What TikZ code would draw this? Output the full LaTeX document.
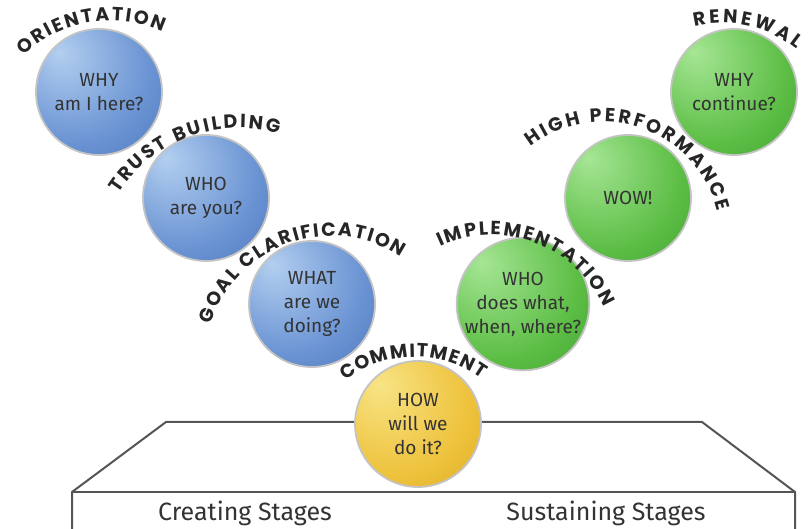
\documentclass[tikz,border=0pt]{standalone}
\usepackage{fontspec}
\setmainfont{Fira Sans}
\newfontfamily\arcfont{Poppins}
\usetikzlibrary{decorations.text}

\definecolor{blueL}{HTML}{B3CFF0}
\definecolor{blueM}{HTML}{6A93D3}
\definecolor{blueD}{HTML}{3560AA}
\definecolor{greenL}{HTML}{A6E695}
\definecolor{greenM}{HTML}{5DBE46}
\definecolor{greenD}{HTML}{2A8C1C}
\definecolor{yelL}{HTML}{F8E486}
\definecolor{yelM}{HTML}{EEC23C}
\definecolor{yelD}{HTML}{D29A12}
\definecolor{rimgray}{HTML}{C4C4C4}
\definecolor{txtgray}{HTML}{333333}
\definecolor{arctxt}{HTML}{262626}
\definecolor{lingray}{HTML}{555555}

\pgfdeclareradialshading{blueball}{\pgfpoint{-16bp}{16bp}}{color(0bp)=(blueL); color(30bp)=(blueM); color(62bp)=(blueD); color(75bp)=(blueD)}
\pgfdeclareradialshading{greenball}{\pgfpoint{-16bp}{16bp}}{color(0bp)=(greenL); color(30bp)=(greenM); color(62bp)=(greenD); color(75bp)=(greenD)}
\pgfdeclareradialshading{yellowball}{\pgfpoint{-16bp}{16bp}}{color(0bp)=(yelL); color(30bp)=(yelM); color(62bp)=(yelD); color(75bp)=(yelD)}

\newcommand\arcfmt{\arcfont\bfseries\fontsize{19}{19}\selectfont}

\tikzset{
  bubble/.style={circle, minimum size=126pt, inner sep=0pt, draw=rimgray, line width=1.8pt,
    align=center, text=txtgray, font=\fontsize{19}{24}\selectfont},
  bluebub/.style={bubble, shading=blueball},
  greenbub/.style={bubble, shading=greenball},
  yellowbub/.style={bubble, shading=yellowball},
  platform/.style={draw=lingray, line width=2pt, line join=miter},
  stagelbl/.style={anchor=base, text=txtgray, font=\fontsize{25}{30}\selectfont},
  arclbl/.style={decorate, decoration={text along path, text align={fit to path}, text color=arctxt, text={|\arcfmt|#1}}}
}

\begin{document}
\begin{tikzpicture}[x=1pt,y=1pt]
\useasboundingbox (0,0) rectangle (808,529);
\clip (0,0) rectangle (808,529);

% platform
\coordinate (pbl2) at (72,-6);
\coordinate (pbl) at (72,37);
\coordinate (ptl) at (166,107);
\coordinate (ptr) at (702,107);
\coordinate (pbr) at (795,37);
\coordinate (pbr2) at (795,-6);
\draw[platform] (pbl2) -- (pbl) -- (ptl) -- (ptr) -- (pbr) -- (pbr2);
\draw[platform] (pbl) -- (pbr);

\node[stagelbl] (creating) at (245,8) {Creating Stages};
\node[stagelbl] (sustaining) at (606,8) {Sustaining Stages};

% bubbles
\node[bluebub] (c1) at (99,437) {WHY\\am I here?};
\node[bluebub] (c2) at (206,331) {WHO\\are you?};
\node[bluebub] (c3) at (312,225) {WHAT\\are we\\doing?};
\node[yellowbub] (c4) at (418,105) {HOW\\will we\\do it?};
\node[greenbub] (c5) at (523,225) {WHO\\does what,\\when, where?};
\node[greenbub] (c6) at (628,331) {WOW!};
\node[greenbub] (c7) at (734,437) {WHY\\continue?};

% arc centres
\coordinate (a1) at (110,382);
\coordinate (a2) at (239,257);
\coordinate (a3) at (331,167);
\coordinate (a4) at (415,59);
\coordinate (a5) at (492,171);
\coordinate (a6) at (603,289);
\coordinate (a7) at (722,388);

\path[arclbl=ORIENTATION] ([shift={(133.5:126)}]a1) arc[start angle=133.5, end angle=65.5, radius=126];
\path[arclbl=TRUST BUILDING] ([shift={(147:144)}]a2) arc[start angle=147, end angle=74, radius=144];
\path[arclbl=GOAL CLARIFICATION] ([shift={(162.5:126)}]a3) arc[start angle=162.5, end angle=56.4, radius=126];
\path[arclbl=COMMITMENT] ([shift={(128:113)}]a4) arc[start angle=128, end angle=54, radius=113];
\path[arclbl=IMPLEMENTATION] ([shift={(115:123)}]a5) arc[start angle=115, end angle=24.6, radius=123];
\path[arclbl=HIGH PERFORMANCE] ([shift={(128:118)}]a6) arc[start angle=128, end angle=14, radius=118];
\path[arclbl=RENEWAL] ([shift={(103.5:118)}]a7) arc[start angle=103.5, end angle=51, radius=118];
\end{tikzpicture}
\end{document}
